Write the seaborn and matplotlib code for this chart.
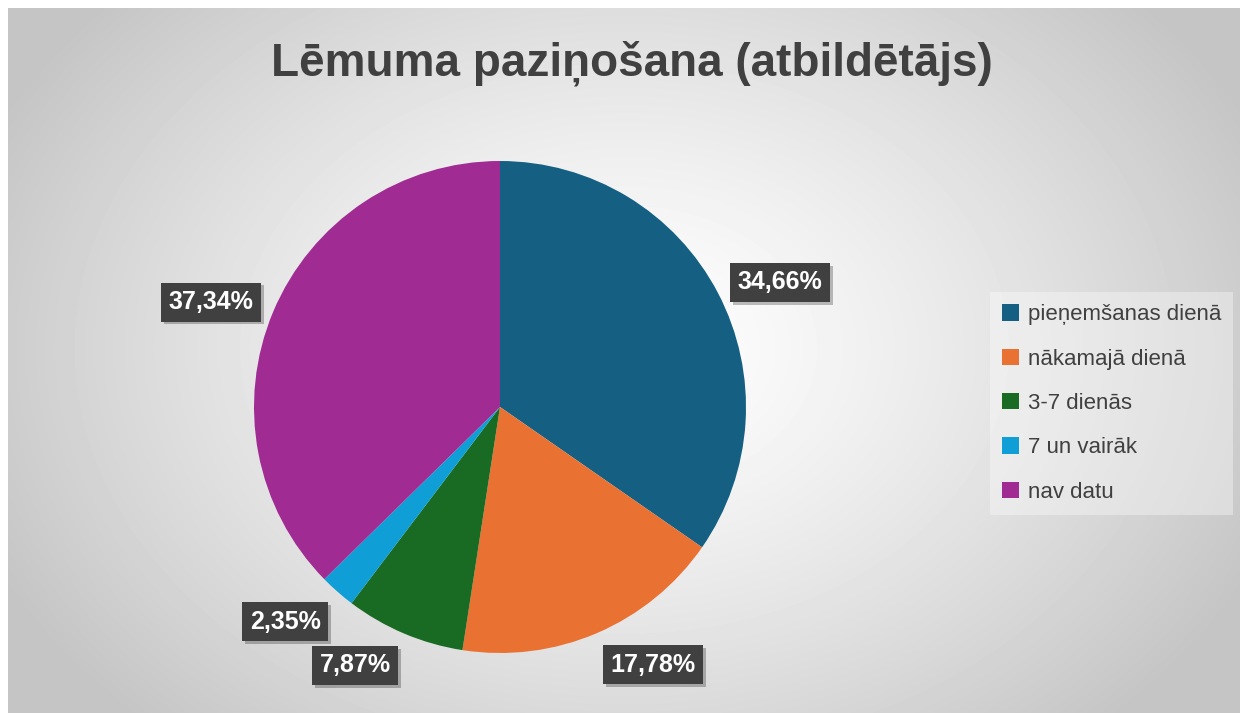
import numpy as np
import matplotlib
matplotlib.use("Agg")
import matplotlib.pyplot as plt
import matplotlib.patheffects as pe
import seaborn as sns

# === Data ===
title = "Lēmuma paziņošana (atbildētājs)"
categories = ["pieņemšanas dienā", "nākamajā dienā", "3-7 dienās", "7 un vairāk", "nav datu"]
shares = [34.66, 17.78, 7.87, 2.35, 37.34]
labels = ["34,66%", "17,78%", "7,87%", "2,35%", "37,34%"]
colors = ["#156082", "#E97132", "#196B24", "#0F9ED5", "#A02B93"]

sns.set_theme(style="white")
plt.rcParams['font.family'] = ['Liberation Sans', 'DejaVu Sans']

W, H = 1240, 713
fig = plt.figure(figsize=(W / 100, H / 100), dpi=100)
fig.patch.set_facecolor("white")

# === Background: radial gradient chart area ===
bg = fig.add_axes([8 / W, 0, 1 - 8 / W, 1 - 8 / H])
yy, xx = np.mgrid[0:705, 0:1232]
cx, cy = 616, 340
d = np.sqrt(((xx - cx) / 700.0) ** 2 + ((yy - cy) / 520.0) ** 2)
d = np.clip(d, 0, 1)
shade = 1.0 - 0.23 * d ** 1.3
bg.imshow(shade, cmap="gray", vmin=0, vmax=1, aspect="auto", interpolation="bilinear")
bg.set_axis_off()

# === Title ===
fig.text(632 / W, 1 - 63 / H, title, ha="center", va="center",
         fontsize=33, fontweight="bold", color="#404040")

# === Pie ===
r_px = 246
cx_px, cy_px = 500, 407
ax = fig.add_axes([(cx_px - r_px) / W, 1 - (cy_px + r_px) / H, 2 * r_px / W, 2 * r_px / H])
wedges, _ = ax.pie(shares, colors=colors, startangle=90, counterclock=False,
                   wedgeprops=dict(linewidth=0))
ax.set_xlim(-1, 1)
ax.set_ylim(-1, 1)
ax.set_aspect("equal")

# data labels at the outside end of each slice
for w, lab in zip(wedges, labels):
    ang = np.deg2rad((w.theta1 + w.theta2) / 2)
    c, s = np.cos(ang), np.sin(ang)
    x, y = 1.05 * c, 1.05 * s
    ha = "left" if c > 0 else "right"
    if s < -0.7:
        va = "top"
    elif s > 0.7:
        va = "bottom"
    else:
        va = "center"
    t = ax.text(x + (0.035 if c > 0 else -0.035), y + (-0.035 if va == "top" else 0.02), lab,
                ha=ha, va=va, fontsize=18, fontweight="bold", color="white",
                bbox=dict(boxstyle="square,pad=0.3", facecolor="#404040", edgecolor="none"),
                clip_on=False)
    t.get_bbox_patch().set_path_effects([
        pe.SimplePatchShadow(offset=(2, -2), shadow_rgbFace="black", alpha=0.25), pe.Normal()])

# === Legend ===
handles = [plt.Rectangle((0, 0), 1, 1, facecolor=c_, edgecolor="none") for c_ in colors]
leg = fig.legend(handles, categories, loc="upper left",
                 bbox_to_anchor=(990 / W, 1 - 292 / H), frameon=True,
                 fontsize=16, labelcolor="#404040", handlelength=0.75, handleheight=0.75,
                 handletextpad=0.4, labelspacing=1.05, borderpad=0.55, borderaxespad=0,
                 fancybox=False)
leg.get_frame().set_facecolor("white")
leg.get_frame().set_alpha(0.35)
leg.get_frame().set_edgecolor("none")

fig.savefig("out.png", dpi=100)
